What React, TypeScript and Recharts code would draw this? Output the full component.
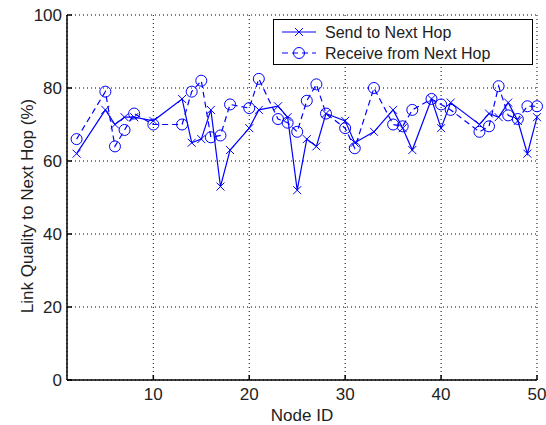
import { LineChart, Line, XAxis, YAxis, CartesianGrid, Legend, Label } from 'recharts'

const nodeIds = [2, 5, 6, 7, 8, 10, 13, 14, 15, 16, 17, 18, 20, 21, 23, 24, 25, 26, 27, 28, 30, 31, 33, 35, 36, 37, 39, 40, 41, 44, 45, 46, 47, 48, 49, 50]
const sendQuality = [62, 74, 70, 72, 72, 71, 77, 65, 66, 74, 53, 63, 69, 74, 75, 72, 52, 66, 64, 73, 71, 65, 68, 74, 69, 63, 77, 69, 76, 70, 73, 72, 76, 71, 62, 72]
const receiveQuality = [66, 79, 64, 68.5, 73, 70, 70, 79, 82, 66.5, 67, 75.5, 74.5, 82.5, 71.5, 70.5, 68, 76.5, 81, 73, 69, 63.5, 80, 70, 69.5, 74, 77, 75.5, 74, 68, 69.5, 80.5, 72.5, 71.5, 75, 75]
const xTicks = [10, 20, 30, 40, 50]
const yTicks = [0, 20, 40, 60, 80, 100]

const data = nodeIds.map((id, i) => ({ node: id, send: sendQuality[i], receive: receiveQuality[i] }))

const BLUE = '#0000ff'
const FONT = '"Liberation Sans", Arial, sans-serif'

// eslint-disable-next-line @typescript-eslint/no-explicit-any
function CrossDot({ cx, cy }: any) {
  if (cx == null || cy == null) return null
  const s = 4
  return (
    <g stroke={BLUE} strokeWidth={1}>
      <line x1={cx - s} y1={cy - s} x2={cx + s} y2={cy + s} />
      <line x1={cx - s} y1={cy + s} x2={cx + s} y2={cy - s} />
    </g>
  )
}

// eslint-disable-next-line @typescript-eslint/no-explicit-any
function CircleDot({ cx, cy }: any) {
  if (cx == null || cy == null) return null
  return <circle cx={cx} cy={cy} r={5.5} fill="none" stroke={BLUE} strokeWidth={1} />
}

function LegendBox() {
  return (
    <svg width={260} height={46} style={{ display: 'block' }}>
      <rect x={0.5} y={0.5} width={259} height={45} fill="#fff" stroke="#000" strokeWidth={1} />
      <line x1={9} y1={13} x2={43} y2={13} stroke={BLUE} strokeWidth={1} />
      <CrossDot cx={26} cy={13} />
      <text x={52} y={19} fontSize={16} fontFamily={FONT} fill="#222">Send to Next Hop</text>
      <line x1={9} y1={34} x2={43} y2={34} stroke={BLUE} strokeWidth={1} strokeDasharray="6 4" />
      <CircleDot cx={26} cy={34} />
      <text x={52} y={40} fontSize={16} fontFamily={FONT} fill="#222">Receive from Next Hop</text>
    </svg>
  )
}

export default function App() {
  const tickStyle = { fontSize: 17, fill: '#222', fontFamily: FONT }
  return (
    <div style={{ position: 'absolute', left: 0, top: 0, background: '#fff' }}>
      <LineChart width={546} height={425} data={data} margin={{ top: 15, right: 9, bottom: 0, left: 20 }}>
        <CartesianGrid stroke="#000" strokeDasharray="1 3" strokeWidth={1} />
        <XAxis
          dataKey="node"
          type="number"
          domain={[1, 50]}
          ticks={xTicks}
          height={45}
          tick={tickStyle}
          tickSize={-5}
          tickMargin={13}
          stroke="#000"
          strokeWidth={1.5}
        >
          <Label value="Node ID" position="insideBottom" offset={4} style={{ fontSize: 17, fill: '#222', fontFamily: FONT }} />
        </XAxis>
        <XAxis
          xAxisId="top"
          orientation="top"
          dataKey="node"
          type="number"
          domain={[1, 50]}
          ticks={xTicks}
          height={0}
          tick={false}
          tickSize={-5}
          stroke="#000"
          strokeWidth={1.5}
        />
        <YAxis
          type="number"
          domain={[0, 100]}
          ticks={yTicks}
          width={47}
          tick={tickStyle}
          tickSize={-5}
          tickMargin={10}
          stroke="#000"
          strokeWidth={1.5}
        >
          <Label
            content={() => (
              <text
                x={27}
                y={206}
                transform="rotate(-90 27 206)"
                textAnchor="middle"
                dominantBaseline="central"
                fontSize={17}
                fontFamily={FONT}
                fill="#222"
              >
                Link Quality to Next Hop (%)
              </text>
            )}
          />
        </YAxis>
        <YAxis
          yAxisId="right"
          orientation="right"
          type="number"
          domain={[0, 100]}
          ticks={yTicks}
          width={0}
          tick={false}
          tickSize={-5}
          stroke="#000"
          strokeWidth={1.5}
        />
        <Legend
          layout="horizontal"
          verticalAlign="middle"
          align="center"
          wrapperStyle={{ left: 273, top: 19, width: 260, height: 46 }}
          content={() => <LegendBox />}
        />
        <Line
          dataKey="send"
          name="Send to Next Hop"
          type="linear"
          stroke={BLUE}
          strokeWidth={1.2}
          dot={<CrossDot />}
          activeDot={false}
          isAnimationActive={false}
        />
        <Line
          dataKey="receive"
          name="Receive from Next Hop"
          type="linear"
          stroke={BLUE}
          strokeWidth={1.2}
          strokeDasharray="6 4"
          dot={<CircleDot />}
          activeDot={false}
          isAnimationActive={false}
        />
      </LineChart>
    </div>
  )
}
